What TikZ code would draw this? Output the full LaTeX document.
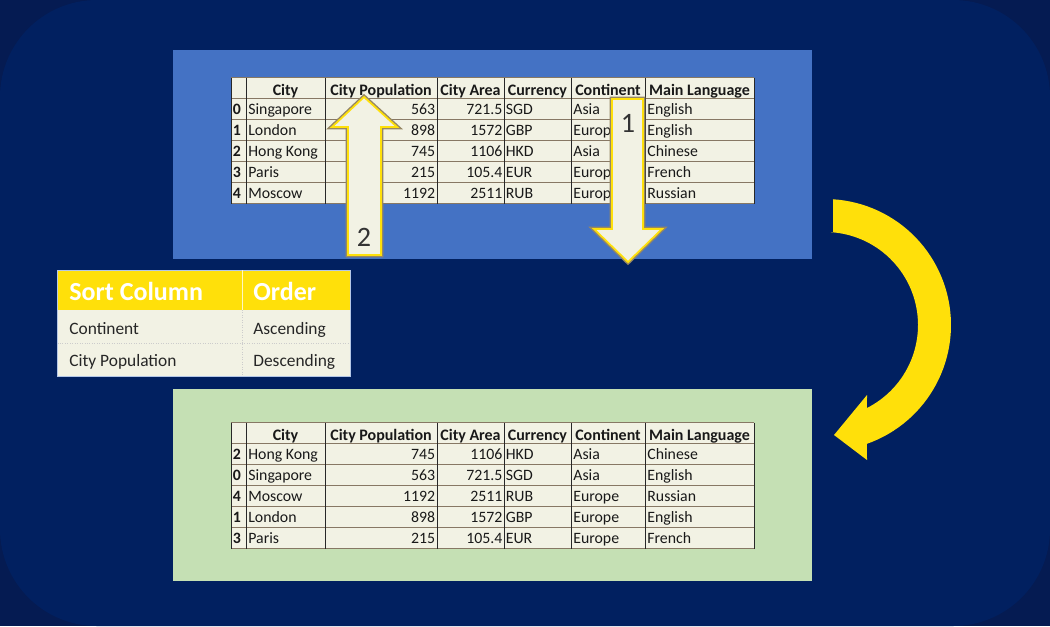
\documentclass[tikz,border=0pt]{standalone}
\usepackage{fontspec}
\setmainfont{Carlito}
\definecolor{bgnavy}{RGB}{1,32,96}
\definecolor{bgcorner}{RGB}{5,27,82}
\definecolor{boxblue}{RGB}{68,114,196}
\definecolor{boxgreen}{RGB}{197,224,180}
\definecolor{cellcream}{RGB}{242,242,228}
\definecolor{gridbrown}{RGB}{135,120,100}
\definecolor{gridblack}{RGB}{40,40,40}
\definecolor{sortyellow}{RGB}{255,224,10}
\definecolor{arrowgray}{RGB}{150,135,100}
\begin{document}
\begin{tikzpicture}[x=0.02cm, y=-0.02cm,
  cell/.style={font=\fontsize{9}{10}\selectfont, inner sep=0pt, text=black!90},
  txtcell/.style={cell, anchor=base west},
  numcell/.style={cell, anchor=base east},
  idxcell/.style={cell, font=\fontsize{9}{10}\selectfont\bfseries, anchor=base west},
  headcell/.style={cell, font=\fontsize{9.1}{10}\selectfont\bfseries, anchor=base},
  hline/.style={gridbrown, line width=0.55pt},
  vline/.style={gridblack, line width=0.55pt},
  sorthead/.style={font=\fontsize{14.8}{16}\selectfont\bfseries, text=white, inner sep=0pt, anchor=base west},
  sortcell/.style={font=\fontsize{9.9}{11}\selectfont, text=black!85, inner sep=0pt, anchor=base west},
  blockarrow/.style={fill=cellcream, draw=sortyellow, line width=1pt, line join=miter,
    preaction={draw=arrowgray, line width=2.6pt}},
  steplabel/.style={font=\fontsize{16}{18}\selectfont, text=black!80, inner sep=0pt}]
% Background with rounded corners
\fill[bgcorner] (0,0) rectangle (1050,626);
\fill[bgnavy, rounded corners=1.94cm] (0,0) rectangle (1050,626);
\useasboundingbox (0,0) rectangle (1050,626);
% Panels
\fill[boxblue] (173,50) rectangle (812,259);
\fill[boxgreen] (173,389) rectangle (812,581);
% Top table (unsorted)
\fill[cellcream] (231,77.5) rectangle (754,203.5);
\foreach \n in {0,...,6} \draw[hline] (231,77.5+21*\n) -- (754,77.5+21*\n);
\foreach \cx in {231,246,325,437,504,571,645,754} \draw[vline] (\cx,77.5) -- (\cx,203.5);
\foreach \hd/\xa/\xb [count=\c] in {City/246/325, City Population/325/437, City Area/437/504,
  Currency/504/571, Continent/571/645, Main Language/645/754}
  \node[headcell] (top-h\c) at ({(\xa+\xb)/2},95) {\hd};
\foreach \i/\city/\pop/\area/\cur/\cont/\lang [count=\n] in {
  0/Singapore/563/721.5/SGD/Asia/English,
  1/London/898/1572/GBP/Europe/English,
  2/Hong Kong/745/1106/HKD/Asia/Chinese,
  3/Paris/215/105.4/EUR/Europe/French,
  4/Moscow/1192/2511/RUB/Europe/Russian} {
  \node[idxcell] (top-i\n) at (232.5,93.5+21*\n) {\i};
  \node[txtcell] (top-c\n) at (248,93.5+21*\n) {\city};
  \node[numcell] (top-p\n) at (435.5,93.5+21*\n) {\pop};
  \node[numcell] (top-a\n) at (502.7,93.5+21*\n) {\area};
  \node[txtcell] (top-u\n) at (505.5,93.5+21*\n) {\cur};
  \node[txtcell] (top-k\n) at (573,93.5+21*\n) {\cont};
  \node[txtcell] (top-l\n) at (647,93.5+21*\n) {\lang};
}
% Bottom table (sorted)
\fill[cellcream] (231,422.5) rectangle (754,548.5);
\foreach \n in {0,...,6} \draw[hline] (231,422.5+21*\n) -- (754,422.5+21*\n);
\foreach \cx in {231,246,325,437,504,571,645,754} \draw[vline] (\cx,422.5) -- (\cx,548.5);
\foreach \hd/\xa/\xb [count=\c] in {City/246/325, City Population/325/437, City Area/437/504,
  Currency/504/571, Continent/571/645, Main Language/645/754}
  \node[headcell] (bot-h\c) at ({(\xa+\xb)/2},440) {\hd};
\foreach \i/\city/\pop/\area/\cur/\cont/\lang [count=\n] in {
  2/Hong Kong/745/1106/HKD/Asia/Chinese,
  0/Singapore/563/721.5/SGD/Asia/English,
  4/Moscow/1192/2511/RUB/Europe/Russian,
  1/London/898/1572/GBP/Europe/English,
  3/Paris/215/105.4/EUR/Europe/French} {
  \node[idxcell] (bot-i\n) at (232.5,438.5+21*\n) {\i};
  \node[txtcell] (bot-c\n) at (248,438.5+21*\n) {\city};
  \node[numcell] (bot-p\n) at (435.5,438.5+21*\n) {\pop};
  \node[numcell] (bot-a\n) at (502.7,438.5+21*\n) {\area};
  \node[txtcell] (bot-u\n) at (505.5,438.5+21*\n) {\cur};
  \node[txtcell] (bot-k\n) at (573,438.5+21*\n) {\cont};
  \node[txtcell] (bot-l\n) at (647,438.5+21*\n) {\lang};
}
% Sort specification
\fill[cellcream] (57.5,310) rectangle (350,376);
\fill[sortyellow] (57.5,270) rectangle (350,310);
\draw[white!60!boxblue, line width=0.5pt] (57.5,270) rectangle (350,376);
\draw[white!75!sortyellow, line width=0.5pt] (242,270) -- (242,310);
\draw[black!20, densely dotted] (242,310) -- (242,376);
\draw[black!20, densely dotted] (57.5,343) -- (350,343);
\node[sorthead] (sort-col) at (69,300) {Sort Column};
\node[sorthead] (sort-ord) at (253,300) {Order};
\node[sortcell] (sort-k1) at (69,334) {Continent};
\node[sortcell] (sort-o1) at (253,334) {Ascending};
\node[sortcell] (sort-k2) at (69,366) {City Population};
\node[sortcell] (sort-o2) at (253,366) {Descending};
% Step 1: Continent, downwards
\filldraw[blockarrow] (612,99) -- (643,99) -- (643,229) -- (662,229) -- (628,262)
  -- (594,229) -- (612,229) -- cycle;
\node[steplabel] (step1) at (628,123) {1};
% Step 2: City Population, upwards
\filldraw[blockarrow] (348,255) -- (381,255) -- (381,127) -- (397,127) -- (364,97)
  -- (332,127) -- (348,127) -- cycle;
\node[steplabel] (step2) at (364,237) {2};
% Curved arrow from unsorted to sorted
\fill[sortyellow] (833,232) -- (833,199)
  -- plot[domain=-86.4:70.6, samples=60] ({825+126*cos(\x)},{325+126*sin(\x)})
  -- (867,460) -- (834,435) -- (867,395)
  -- plot[domain=63.2:-86.4, samples=60] ({825+93*cos(\x)},{325+93*sin(\x)}) -- cycle;
\end{tikzpicture}
\end{document}
